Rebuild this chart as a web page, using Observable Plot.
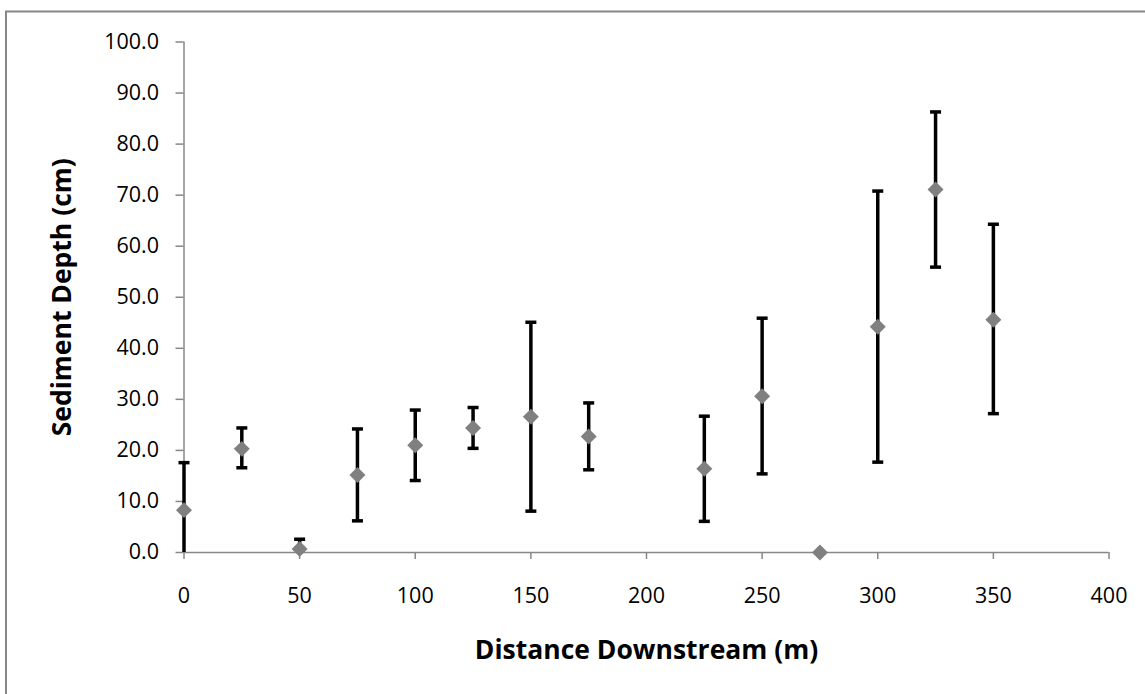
<!DOCTYPE html>
<html>
<head>
<meta charset="utf-8">
<script src="https://cdn.jsdelivr.net/npm/d3@7"></script>
<script src="https://cdn.jsdelivr.net/npm/@observablehq/plot@0.6"></script>
<style>
  html, body { margin: 0; padding: 0; background: #fff; }
  #chart { width: 1145px; height: 694px; overflow: hidden; }
</style>
</head>
<body>
<div id="chart"></div>
<script>
// Data
const distance = [0, 25, 50, 75, 100, 125, 150, 175, 225, 250, 275, 300, 325, 350];
const depth    = [8.3, 20.3, 0.7, 15.2, 21.0, 24.4, 26.6, 22.7, 16.4, 30.6, 0.0, 44.2, 71.1, 45.6];
const errHigh  = [17.6, 24.4, 2.6, 24.2, 27.9, 28.4, 45.1, 29.3, 26.7, 45.9, null, 70.8, 86.3, 64.3];
const errLow   = [-1.0, 16.6, -1.2, 6.2, 14.1, 20.4, 8.1, 16.2, 6.1, 15.4, null, 17.7, 55.9, 27.2];
const xTicks = [0, 50, 100, 150, 200, 250, 300, 350, 400];
const yTicks = [0, 10, 20, 30, 40, 50, 60, 70, 80, 90, 100];
const xTitle = "Distance Downstream (m)";
const yTitle = "Sediment Depth (cm)";

const rows = distance.map((d, i) => ({x: d, y: depth[i], lo: errLow[i], hi: errHigh[i]}));
const bars = rows.filter(d => d.hi != null);
// error bars are cut at the axis floor (0), as in the original chart
const lowCaps = bars.filter(d => d.lo >= 0);

const capSymbol = {
  draw(ctx, size) {
    const w = Math.sqrt(size / Math.PI);
    ctx.moveTo(-w, 0);
    ctx.lineTo(w, 0);
  }
};

const font = "'Open Sans', 'Noto Sans', sans-serif";
const axisGray = "#878787";

const plot = Plot.plot({
  width: 1145,
  height: 694,
  marginLeft: 183.5,
  marginRight: 36.5,
  marginTop: 41.5,
  marginBottom: 142,
  style: {fontFamily: font, background: "#fff", overflow: "visible"},
  x: {domain: [0, 400]},
  y: {domain: [0, 100]},
  marks: [
    Plot.ruleX([0], {stroke: axisGray, strokeWidth: 1.5}),
    Plot.ruleY([0], {stroke: axisGray, strokeWidth: 1.5}),
    Plot.axisY({ticks: yTicks, tickFormat: d3.format(".1f"), tickSize: 8, tickPadding: 17,
      stroke: axisGray, strokeWidth: 1.5, fill: "#000", fontSize: 21.5, label: null}),
    Plot.axisX({ticks: xTicks, tickFormat: d => String(d), tickSize: 7, tickPadding: 28,
      stroke: axisGray, strokeWidth: 1.5, fill: "#000", fontSize: 21.5, label: null}),
    Plot.ruleX(bars, {x: "x", y1: d => Math.max(0, d.lo), y2: "hi", stroke: "#000", strokeWidth: 3.5}),
    Plot.dot(bars, {x: "x", y: "hi", symbol: capSymbol, r: 5.5, stroke: "#000", strokeWidth: 3.5}),
    Plot.dot(lowCaps, {x: "x", y: "lo", symbol: capSymbol, r: 5.5, stroke: "#000", strokeWidth: 3.5}),
    Plot.dot(rows, {x: "x", y: "y", symbol: "diamond2", r: 7.2, fill: "#808080", stroke: "none"}),
    Plot.text([xTitle], {frameAnchor: "bottom", dy: 98, fontSize: 26.5, fontWeight: "bold", fill: "#000",
      textAnchor: "middle", lineAnchor: "middle"}),
    Plot.text([yTitle], {frameAnchor: "left", dx: -121.5, rotate: -90, fontSize: 26.5, fontWeight: "bold", fill: "#000",
      textAnchor: "middle", lineAnchor: "middle"})
  ]
});

// outer chart-area border
d3.select(plot).append("rect")
  .attr("x", 6).attr("y", 11.5).attr("width", 1160).attr("height", 700)
  .attr("fill", "none").attr("stroke", axisGray).attr("stroke-width", 2);

document.getElementById("chart").appendChild(plot);
</script>
</body>
</html>
